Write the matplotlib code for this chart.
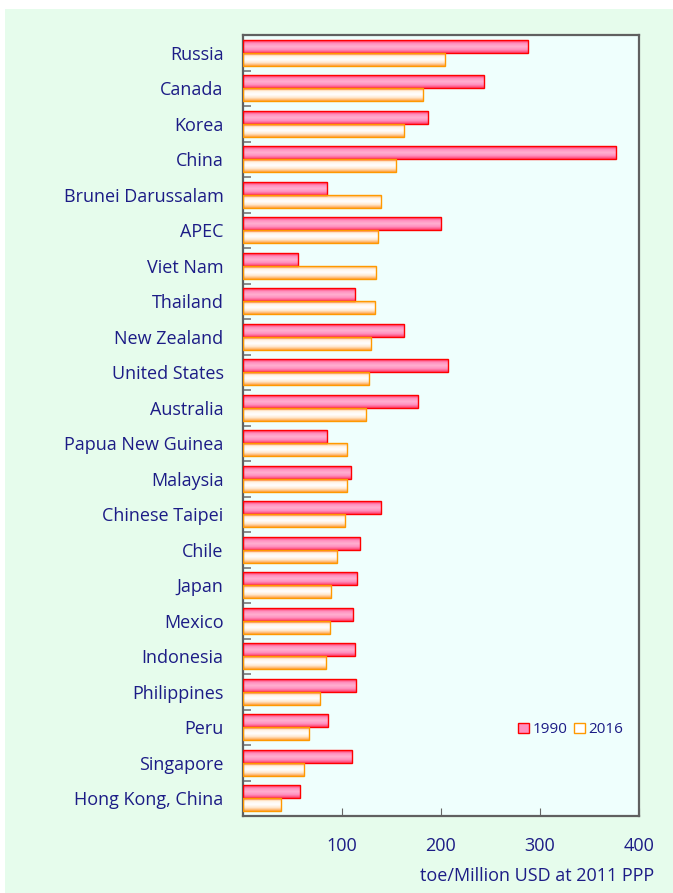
import numpy as np
import matplotlib
matplotlib.use("Agg")
import matplotlib.pyplot as plt
from matplotlib.colors import LinearSegmentedColormap
from matplotlib.patches import Rectangle

plt.rcParams['font.family'] = ['Open Sans', 'DejaVu Sans']

categories = ["Russia", "Canada", "Korea", "China", "Brunei Darussalam", "APEC",
              "Viet Nam", "Thailand", "New Zealand", "United States", "Australia",
              "Papua New Guinea", "Malaysia", "Chinese Taipei", "Chile", "Japan",
              "Mexico", "Indonesia", "Philippines", "Peru", "Singapore", "Hong Kong, China"]
values_1990 = [288, 243, 187, 377, 85, 200, 56, 113, 163, 207, 177,
               85, 109, 139, 118, 115, 111, 113, 114, 86, 110, 58]
values_2016 = [204, 182, 163, 155, 139, 136, 134, 133, 129, 127, 124,
               105, 105, 103, 95, 89, 88, 84, 78, 67, 62, 38]
xticks = [100, 200, 300, 400]
xlabel = "toe/Million USD at 2011 PPP"

TXT = "#1c1c86"
W, H = 673, 893
fig = plt.figure(figsize=(W/100, H/100), dpi=100)
fig.patch.set_facecolor("white")
fig.add_artist(Rectangle((5/W, 0), 1 - 5/W, 1 - 9/H, transform=fig.transFigure,
                         facecolor="#e6fcec", edgecolor="none", zorder=-10))

ax = fig.add_axes([243/W, 1 - 816/H, (639-243)/W, (816-35)/H])
ax.set_facecolor("#effffd")

n = len(categories)
y = np.arange(n)
h = 0.36
cmap_red = LinearSegmentedColormap.from_list("r", ["#ff2a55", "#ff8fbf", "#ffb0d0", "#ff8fbf", "#ff3a66"])
cmap_org = LinearSegmentedColormap.from_list("o", ["#ffb050", "#fff4ea", "#ffffff", "#ffe6cc", "#ffa040"])

b1 = ax.barh(y - h/2, values_1990, height=h, facecolor="none", edgecolor="#ff0000", linewidth=1.0, zorder=3, label="1990")
b2 = ax.barh(y + h/2, values_2016, height=h, facecolor="none", edgecolor="#ff9900", linewidth=1.0, zorder=3, label="2016")

grad = np.linspace(0, 1, 64).reshape(-1, 1)
for bars, cm in ((b1, cmap_red), (b2, cmap_org)):
    for p in bars:
        x0, y0 = p.get_x(), p.get_y()
        w, hh = p.get_width(), p.get_height()
        im = ax.imshow(grad, cmap=cm, aspect="auto", extent=(x0, x0 + w, y0 + hh, y0),
                       zorder=2, interpolation="bilinear")
        im.set_clip_path(p)

ax.set_xlim(0, 400)
ax.set_ylim(n - 0.5, -0.5)
ax.set_yticks(y)
ax.set_yticklabels(categories, fontsize=13, color=TXT)
ax.tick_params(axis="y", length=0, pad=14)
ax.set_yticks(np.arange(n - 1) + 0.5, minor=True)
ax.tick_params(axis="y", which="minor", direction="in", length=6, color="#777777", width=1.2)
ax.set_xticks(xticks)
ax.set_xticklabels([str(t) for t in xticks], fontsize=13, color=TXT)
ax.tick_params(axis="x", direction="in", length=6, color="#666666", pad=15)
ax.set_xlabel(xlabel, fontsize=13, color=TXT, ha="right")
ax.xaxis.set_label_coords((654 - 243) / (639 - 243), -(876 - 816) / (816 - 35))
ax.xaxis.label.set_va("center")

for s in ax.spines.values():
    s.set_color("#606060")
    s.set_linewidth(1.6)

leg = ax.legend(handles=[b1, b2], loc="lower right", bbox_to_anchor=(0.992, 0.085), ncol=2,
                frameon=False, fontsize=11, handlelength=0.7, handleheight=0.7,
                handletextpad=0.25, columnspacing=0.45, borderpad=0.3, labelcolor=TXT)
leg.legend_handles[0].set_facecolor("#ff8fbf")
leg.legend_handles[1].set_facecolor("#ffffff")

fig.savefig("out.png", dpi=100, facecolor=fig.get_facecolor())
